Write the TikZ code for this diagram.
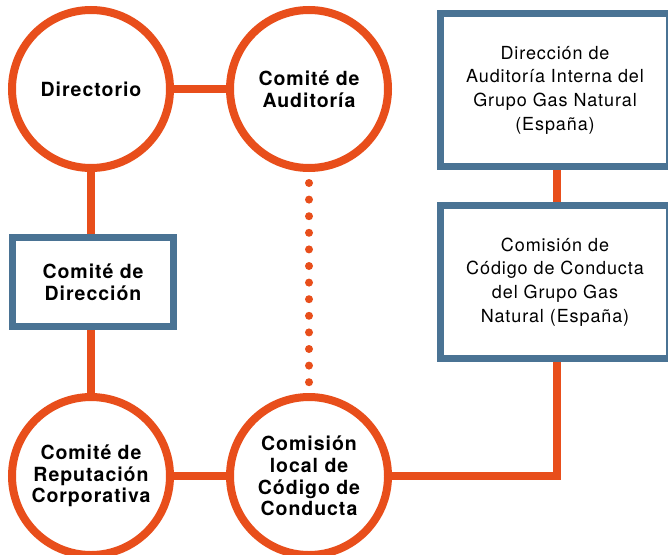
\documentclass[tikz,border=0pt]{standalone}
\usepackage{fontspec}
\setmainfont{TeX Gyre Heros}
\newfontfamily\bsp{TeX Gyre Heros}[LetterSpace=5]
\newfontfamily\rsp{TeX Gyre Heros}[LetterSpace=5]
\usetikzlibrary{calc}
\definecolor{orng}{HTML}{E84E1B}
\definecolor{blu}{HTML}{4A7394}
\begin{document}
\begin{tikzpicture}[x=1pt,y=-1pt,
  circ/.style={circle, draw=orng, line width=8pt, fill=white, minimum size=158pt, inner sep=0pt, align=center,
    font=\bsp\bfseries\fontsize{19.5}{21.7}\selectfont},
  bbox/.style={rectangle, draw=blu, line width=7pt, fill=white, align=center, inner sep=0pt},
  rtext/.style={font=\rsp\fontsize{18}{23.6}\selectfont},
  btext/.style={font=\bsp\bfseries\fontsize{19.5}{21.7}\selectfont},
  conn/.style={draw=orng, line width=8pt},
  dots/.style={draw=orng, line width=8pt, line cap=round, dash pattern=on 0pt off 16.6pt}]
\useasboundingbox (0,0) rectangle (668,554);
\node[circ] (dir) at (91,89) {Directorio};
\node[circ] (aud) at (309,89) {Comité de\\Auditoría};
\node[circ] (rep) at (91,476) {Comité de\\Reputación\\Corporativa};
\node[circ] (loc) at (309,476) {Comisión\\local de\\Código de\\Conducta};
\node[bbox, btext, minimum width=161pt, minimum height=89pt] (cdir) at (93,282) {Comité de\\Dirección};
\node[bbox, rtext, minimum width=229pt, minimum height=153pt] (cb1) at (555,90) {Dirección de\\Auditoría Interna del\\Grupo Gas Natural\\(España)};
\node[bbox, rtext, minimum width=229pt, minimum height=153pt] (cb2) at (555,282) {Comisión de\\Código de Conducta\\del Grupo Gas\\Natural (España)};
\coordinate (k) at (557,476);
\draw[conn] (dir) -- (aud);
\draw[conn] (dir.south) -- (dir.south |- cdir.north);
\draw[conn] (rep.north |- cdir.south) -- (rep.north);
\draw[conn] (rep) -- (loc);
\draw[conn] (loc.east) -- (k) -- (k |- cb2.south);
\draw[conn] (k |- cb1.south) -- (k |- cb2.north);
\draw[dots] ($(aud.south)+(0,11)$) -- (loc.north);
\end{tikzpicture}
\end{document}
